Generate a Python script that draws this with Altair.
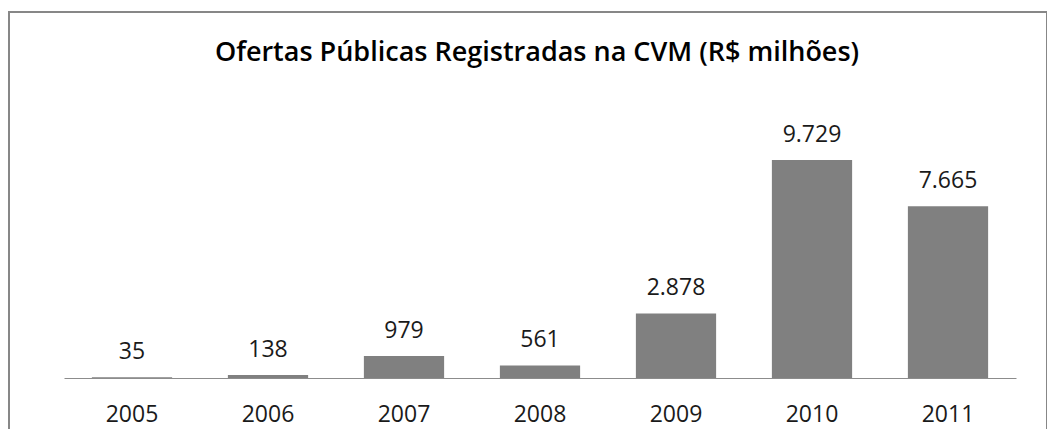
import altair as alt
import pandas as pd

years = ["2005", "2006", "2007", "2008", "2009", "2010", "2011"]
values = [35, 138, 979, 561, 2878, 9729, 7665]
labels = ["35", "138", "979", "561", "2.878", "9.729", "7.665"]
title_text = "Ofertas Públicas Registradas na CVM (R$ milhões)"

df = pd.DataFrame({"ano": years, "valor": values, "rotulo": labels})

FONT = "Open Sans"

base = alt.Chart(df)

xenc = alt.X("ano:N", sort=years,
             scale=alt.Scale(paddingInner=0.41, paddingOuter=0.205),
             axis=alt.Axis(title=None, labelAngle=0, ticks=False, labelPadding=25,
                           labelFont=FONT, labelFontSize=23, labelColor="#1a1a1a",
                           domainColor="#8c8c8c", domainWidth=1))
yenc = alt.Y("valor:Q", scale=alt.Scale(domain=[0, 12000], nice=False),
             axis=None)

bars = base.mark_bar(color="#808080").encode(x=xenc, y=yenc)

text = base.mark_text(font=FONT, fontSize=23, color="#1a1a1a",
                      baseline="alphabetic", dy=-18).encode(
    x=alt.X("ano:N", sort=years), y="valor:Q", text="rotulo:N")

border = alt.Chart(pd.DataFrame({"k": [0]})).mark_rect(
    fill=None, stroke="#878787", strokeWidth=2, clip=False).encode(
    x=alt.value(-55), x2=alt.value(983), y=alt.value(-97), y2=alt.value(340))

title = alt.Chart(pd.DataFrame({"t": [title_text]})).mark_text(
    font=FONT, fontSize=27, fontWeight=600, color="#000000",
    align="center", baseline="middle").encode(
    x=alt.value(473), y=alt.value(-56), text="t:N")

chart = alt.layer(border, bars, text, title).properties(
    width=952, height=269,
    autosize=alt.AutoSizeParams(type="none"),
    padding={"left": 56, "top": 101, "right": 31, "bottom": 51},
).configure_view(stroke=None)

chart.save("out.html", embed_options={"renderer": "svg", "actions": False})
